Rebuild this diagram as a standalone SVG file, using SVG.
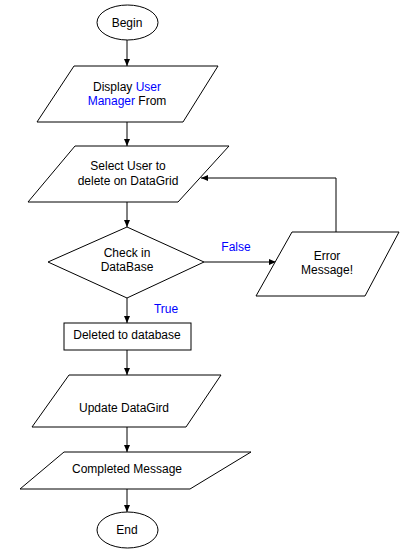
<svg xmlns="http://www.w3.org/2000/svg" width="402" height="551" viewBox="0 0 402 551">
<defs>
<style>
.s{fill:#fff;stroke:#000;stroke-width:1}
.t{font-family:"Liberation Sans",Arial,sans-serif;font-size:12px;fill:#000;text-anchor:middle}
.b{fill:#0000ff}
.c{fill:none;stroke:#000;stroke-width:1}
</style>
<marker id="ah" markerWidth="8" markerHeight="8" refX="7" refY="4" orient="auto" markerUnits="userSpaceOnUse">
<path d="M0,1 L7,4 L0,7 Z" fill="#000"/>
</marker>
</defs>
<rect width="402" height="551" fill="#fff"/>
<g id="connectors">
<line class="c" x1="127" y1="40" x2="127" y2="66" marker-end="url(#ah)"/>
<line class="c" x1="127" y1="122" x2="127" y2="146" marker-end="url(#ah)"/>
<line class="c" x1="127" y1="202" x2="127" y2="227" marker-end="url(#ah)"/>
<line class="c" x1="204" y1="262" x2="276" y2="262" marker-end="url(#ah)"/>
<polyline class="c" points="336,232 336,178 201,178" marker-end="url(#ah)"/>
<line class="c" x1="127" y1="298" x2="127" y2="323" marker-end="url(#ah)"/>
<line class="c" x1="127" y1="350" x2="127" y2="375" marker-end="url(#ah)"/>
<line class="c" x1="127" y1="427" x2="127" y2="452" marker-end="url(#ah)"/>
<line class="c" x1="127" y1="489" x2="127" y2="512" marker-end="url(#ah)"/>
<text class="t b" x="236" y="251">False</text>
<text class="t b" x="166" y="313">True</text>
</g>
<g id="begin">
<ellipse class="s" cx="127.5" cy="22.5" rx="30.5" ry="17.5"/>
<text class="t" x="127" y="26.5">Begin</text>
</g>
<g id="display">
<polygon class="s" points="74,66 218,66 183,122 37,122"/>
<text class="t" x="127" y="91">Display <tspan class="b">User</tspan></text>
<text class="t" x="127" y="105"><tspan class="b">Manager</tspan> From</text>
</g>
<g id="select">
<polygon class="s" points="75,146 229,146 178,202 28,202"/>
<text class="t" x="128" y="170">Select User to</text>
<text class="t" x="128" y="185">delete on DataGrid</text>
</g>
<g id="check">
<polygon class="s" points="127,227 204,262 127,298 48,262"/>
<text class="t" x="127" y="257">Check in</text>
<text class="t" x="127" y="271">DataBase</text>
</g>
<g id="error">
<polygon class="s" points="292,232 399,232 365,296 256,296"/>
<text class="t" x="327" y="260">Error</text>
<text class="t" x="327" y="274">Message!</text>
</g>
<g id="deleted">
<rect class="s" x="64" y="323" width="127" height="27"/>
<text class="t" x="127" y="339">Deleted to database</text>
</g>
<g id="update">
<polygon class="s" points="69,375 221,375 186,427 32,427"/>
<text class="t" x="124" y="412">Update DataGird</text>
</g>
<g id="completed">
<polygon class="s" points="64,452 251,452 190,489 20,489"/>
<text class="t" x="127" y="473">Completed Message</text>
</g>
<g id="end">
<ellipse class="s" cx="127.5" cy="530" rx="30.5" ry="18"/>
<text class="t" x="127" y="534">End</text>
</g>
</svg>
